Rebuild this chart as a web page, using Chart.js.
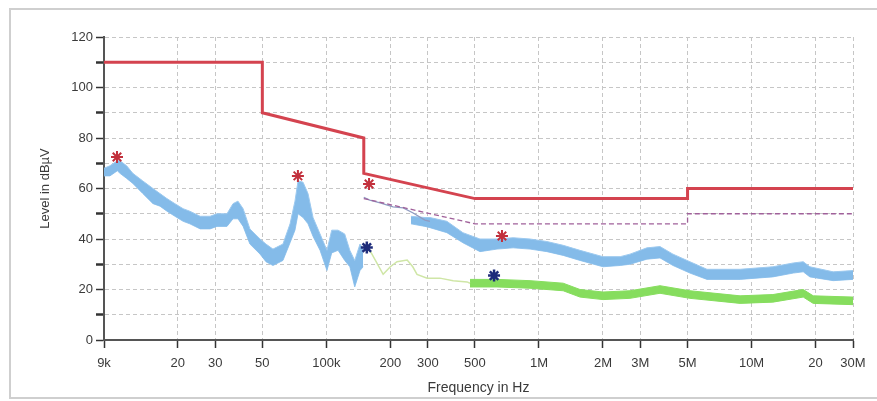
<!DOCTYPE html>
<html>
<head>
<meta charset="utf-8">
<script src="https://cdn.jsdelivr.net/npm/chart.js@4.4.1/dist/chart.umd.min.js"></script>
<style>
  html, body { margin: 0; padding: 0; background: #fff; }
  #wrap { position: relative; width: 877px; height: 401px; overflow: hidden; }
  #frame { position: absolute; left: 9px; top: 8px; width: 900px; height: 391px; border: 2px solid #cfcfcf; box-sizing: border-box; }
  #c { position: absolute; left: 0; top: 0; }
</style>
</head>
<body>
<div id="wrap">
  <div id="frame"></div>
  <canvas id="c" width="877" height="401"></canvas>
</div>
<script>
// axis ticks
const xTicks = [9e3, 2e4, 3e4, 5e4, 1e5, 2e5, 3e5, 5e5, 1e6, 2e6, 3e6, 5e6, 1e7, 2e7, 3e7];
const xLabels = ["9k", "20", "30", "50", "100k", "200", "300", "500", "1M", "2M", "3M", "5M", "10M", "20", "30M"];

// limit lines (Hz / dBuV)
const qpLimitFreq = [9e3, 5e4, 5e4, 1.5e5, 1.5e5, 5e5, 5e6, 5e6, 3e7];
const qpLimit = [110, 110, 90, 80, 66, 56, 56, 60, 60];
const avLimitFreq = [1.5e5, 5e5, 5e6, 5e6, 3e7];
const avLimit = [56, 46, 46, 50, 50];

// peak trace below 150 kHz (band: upper / lower envelope)
const lowFreq = [9000, 9600, 10400, 10700, 11500, 12300, 13700, 15300, 16500, 17800, 19400, 21200, 22800, 25500, 28400, 30600, 34100, 36400, 38400, 40600, 43700, 48800, 52000, 56100, 62500, 67500, 71200, 73600, 77700, 82000, 86600, 93400, 100700, 106000, 113500, 122000, 129000, 136000, 144000, 149000];
const lowUpper = [68, 69, 71, 71, 69, 66, 63, 60, 58, 56, 54, 52, 51, 49, 49, 50, 50, 54, 55, 52, 44, 40, 38, 36, 38, 46, 55, 63, 62.5, 58, 48.5, 42, 35.5, 43.5, 43.5, 42, 35.5, 31.5, 38, 36];
const lowLower = [65, 65, 67, 66, 64, 62, 58, 54, 53, 51, 49, 47, 46, 44, 44, 45, 45, 48, 48, 45, 38, 34, 31, 29.5, 31.5, 38.5, 43.5, 50, 48.5, 46, 41, 35.5, 27.5, 34.5, 35.5, 31.5, 29, 21, 27.5, 29];

// thin scan just after 150 kHz
const scanFreq = [150000, 160000, 179000, 206000, 230000, 256000, 291000, 307000];
const scanLevel = [56.5, 55.4, 54.3, 52.7, 52.3, 50.3, 47.5, 47];

// peak trace above 250 kHz
const hiFreq = [250000, 291000, 307000, 369000, 439000, 528000, 635000, 756000, 908000, 1090000, 1300000, 1560000, 2000000, 2410000, 2680000, 3220000, 3710000, 4270000, 5130000, 6170000, 8830000, 12600000, 15700000, 17500000, 18800000, 24200000, 30000000];
const hiUpper = [49, 48.5, 48.5, 47, 42.5, 40, 40, 40.5, 40, 39, 37.5, 35.5, 33, 33, 34, 36.5, 37, 34, 31, 28, 28, 29, 30.5, 31, 29, 27, 27.5];
const hiLower = [46, 45, 44.5, 42.5, 38.5, 35, 36, 36.5, 36, 35, 33.5, 31.5, 29, 29.5, 30, 32, 32.5, 29.5, 26.5, 24, 24, 25, 26.5, 27, 25, 23.5, 24];

// average trace
const avFaintFreq = [155000, 160000, 185000, 200000, 215000, 240000, 255000, 267000, 298000, 342000, 395000, 459000, 474000];
const avFaint = [36, 35.6, 26, 29, 31, 31.7, 29, 26, 24.5, 24.5, 23.5, 23, 22.5];
const avFreq = [474000, 635000, 908000, 1300000, 1560000, 2000000, 2680000, 3710000, 5130000, 8830000, 12600000, 17500000, 19500000, 30000000];
const avUpper = [24, 24, 23.5, 22.5, 20, 19, 19.5, 21.5, 19.5, 17.5, 18, 20, 17.5, 17];
const avLower = [21, 21, 20.5, 19.5, 17, 16, 16.5, 18.5, 16.5, 14.5, 15, 17, 14.5, 14];

// final measurement markers
const qpPeakFreq = [10360, 73500, 158800, 670000];
const qpPeak = [72.5, 65, 61.8, 41.2];
const avPeakFreq = [155000, 615000];
const avPeak = [36.6, 25.5];

const pts = (xs, ys) => xs.map((x, i) => ({ x: x, y: ys[i] }));

const BLUE = "#84bbe9";
const GREEN = "#86dd5e";

const line = (data, color, width, extra) => Object.assign({
  data: data,
  borderColor: color,
  borderWidth: width,
  pointRadius: 0,
  tension: 0,
  fill: false
}, extra || {});

const datasets = [
  { type: "scatter", data: pts(qpPeakFreq, qpPeak), pointStyle: "star", pointRadius: 6,
    borderColor: "#c2303c", borderWidth: 2, order: 0 },
  { type: "scatter", data: pts(avPeakFreq, avPeak), pointStyle: "star", pointRadius: 6,
    borderColor: "#1d2b7a", borderWidth: 2.5, order: 0 },
  line(pts(qpLimitFreq, qpLimit), "#d4434f", 3, { order: 1 }),
  line(pts(avLimitFreq, avLimit), "#a0609a", 1.3, { order: 2, borderDash: [5, 3] }),
  line(pts(scanFreq, scanLevel), "#8f9cc2", 1.3, { order: 3 }),
  line(pts(avFaintFreq, avFaint), "#cfe6a6", 1.5, { order: 4 }),
  line(pts(avFreq, avUpper), GREEN, 1, { order: 5, fill: "+1", backgroundColor: GREEN }),
  line(pts(avFreq, avLower), GREEN, 1, { order: 5 }),
  line(pts(lowFreq, lowUpper), "#9cc9ef", 1, { order: 6, fill: "+1", backgroundColor: BLUE }),
  line(pts(lowFreq, lowLower), "#9cc9ef", 1, { order: 6 }),
  line(pts(hiFreq, hiUpper), "#9cc9ef", 1, { order: 6, fill: "+1", backgroundColor: BLUE }),
  line(pts(hiFreq, hiLower), "#9cc9ef", 1, { order: 6 })
];

const tickFont = { family: "'Liberation Sans', Arial, sans-serif", size: 13 };

new Chart(document.getElementById("c"), {
  type: "line",
  data: { datasets: datasets },
  options: {
    responsive: false,
    animation: false,
    layout: { padding: { left: 30, top: 37, right: 24, bottom: 2 } },
    plugins: { legend: { display: false }, tooltip: { enabled: false } },
    scales: {
      x: {
        type: "logarithmic",
        min: 9e3,
        max: 3e7,
        afterBuildTicks: (scale) => { scale.ticks = xTicks.map(v => ({ value: v })); },
        afterFit: (scale) => { scale.height = 59; },
        ticks: {
          autoSkip: false,
          maxRotation: 0,
          padding: 8,
          color: "#3a3a3a",
          font: tickFont,
          callback: (v, i) => xLabels[i]
        },
        grid: { color: "#c6c6c6", lineWidth: 1, tickLength: 8, tickColor: "#333", tickWidth: 1.5 },
        border: { color: "#555", width: 2, dash: [4, 3] },
        title: { display: true, text: "Frequency in Hz", color: "#3a3a3a",
          font: { family: "'Liberation Sans', Arial, sans-serif", size: 14 }, padding: { top: 0, bottom: 2 } }
      },
      y: {
        min: 0,
        max: 120,
        afterFit: (scale) => { scale.width = 74; },
        ticks: {
          stepSize: 10,
          padding: 3,
          color: "#3a3a3a",
          font: tickFont,
          callback: (v) => (v % 20 === 0 ? v : "")
        },
        grid: { color: "#c6c6c6", lineWidth: 1, tickLength: 8, tickColor: "#333",
          tickWidth: (c) => (c.tick && c.tick.value % 20 !== 0 ? 2.5 : 1.5) },
        border: { color: "#555", width: 2, dash: [4, 3] },
        title: { display: true, text: "Level in dBµV", color: "#3a3a3a",
          font: { family: "'Liberation Sans', Arial, sans-serif", size: 13 }, padding: { top: 8, bottom: 0 } }
      }
    }
  }
});
</script>
</body>
</html>
